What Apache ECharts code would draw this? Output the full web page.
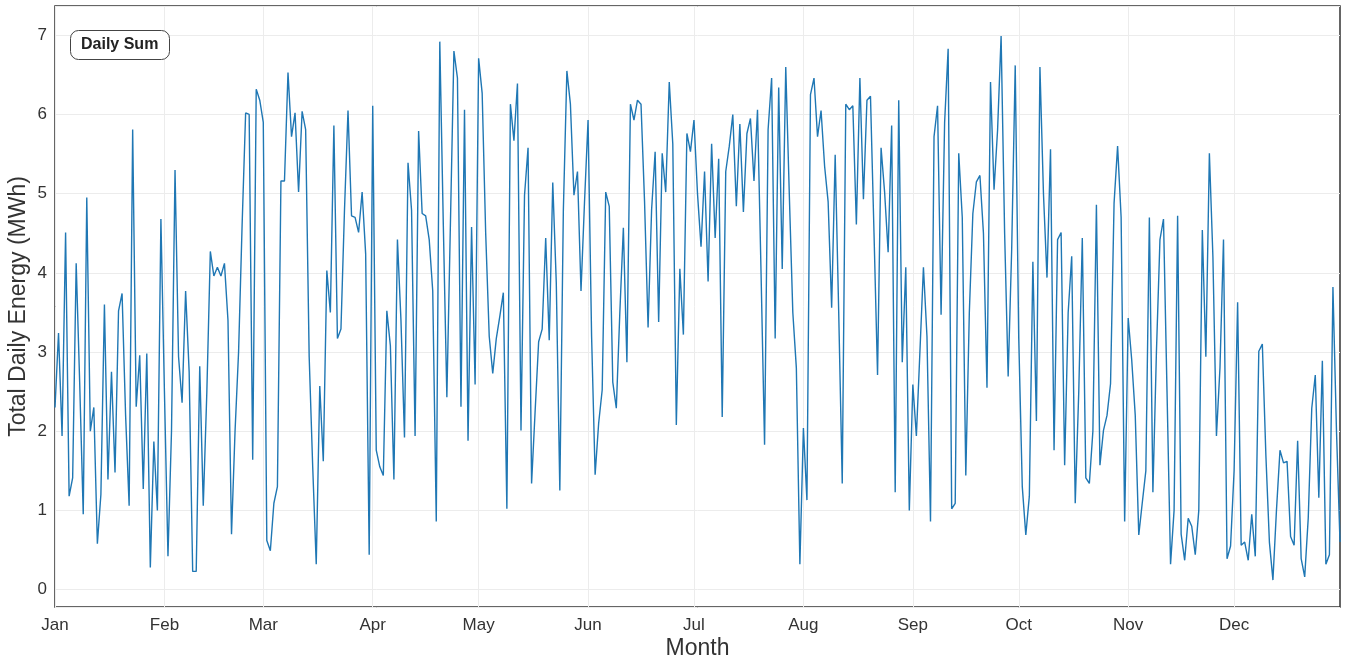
<!DOCTYPE html>
<html>
<head>
<meta charset="utf-8">
<title>Daily Sum</title>
<script src="https://cdn.jsdelivr.net/npm/echarts@6/dist/echarts.min.js"></script>
<style>
    html, body { margin: 0; padding: 0; background: #ffffff; }
    #chart { width: 1346px; height: 662px; }
</style>
</head>
<body>
<div id="chart"></div>
<script>
var monthNames = ['Jan', 'Feb', 'Mar', 'Apr', 'May', 'Jun', 'Jul', 'Aug', 'Sep', 'Oct', 'Nov', 'Dec'];
var monthDays = [31, 28, 31, 30, 31, 30, 31, 31, 30, 31, 30, 31];

// daily totals (MWh)
var jan = [2.3, 3.24, 1.94, 4.51, 1.18, 1.41, 4.12, 2.6, 0.95, 4.95, 2.0, 2.3, 0.58, 1.2, 3.6, 1.39,
    2.75, 1.48, 3.52, 3.74, 2.2, 1.06, 5.81, 2.31, 2.96, 1.27, 2.98, 0.28, 1.87, 1.0, 4.68];
var feb = [2.5, 0.42, 2.0, 5.3, 2.94, 2.36, 3.77, 2.75, 0.23, 0.23, 2.82, 1.06, 2.48, 4.27, 3.96, 4.07,
    3.96, 4.12, 3.4, 0.7, 2.0, 3.0, 4.6, 6.02, 6.0, 1.64, 6.32, 6.18];
var mar = [5.9, 0.62, 0.49, 1.09, 1.3, 5.16, 5.16, 6.53, 5.72, 6.02, 5.02, 6.04, 5.81, 2.94, 1.55, 0.32,
    2.57, 1.62, 4.03, 3.5, 5.86, 3.17, 3.29, 4.79, 6.05, 4.72, 4.7, 4.51, 5.02, 4.24, 0.44];
var apr = [6.11, 1.76, 1.55, 1.44, 3.52, 3.08, 1.39, 4.42, 3.4, 1.92, 5.39, 4.79, 1.94, 5.79, 4.75, 4.72,
    4.42, 3.77, 0.86, 6.92, 4.6, 2.43, 4.6, 6.8, 6.46, 2.31, 6.06, 1.88, 4.58, 2.59];
var may = [6.71, 6.27, 4.5, 3.2, 2.73, 3.17, 3.45, 3.75, 1.02, 6.13, 5.67, 6.39, 2.01, 4.98, 5.58, 1.34,
    2.25, 3.13, 3.29, 4.44, 3.15, 5.14, 3.87, 1.25, 4.79, 6.55, 6.13, 4.98, 5.28, 3.77, 4.9];
var jun = [5.93, 3.2, 1.45, 2.1, 2.52, 5.02, 4.84, 2.62, 2.29, 3.5, 4.57, 2.87, 6.13, 5.93, 6.18, 6.13,
    4.9, 3.31, 4.8, 5.53, 3.38, 5.51, 5.02, 6.41, 5.63, 2.08, 4.05, 3.22, 5.76, 5.53];
var jul = [5.93, 5.0, 4.33, 5.28, 3.89, 5.63, 4.44, 5.44, 2.18, 5.28, 5.6, 6.0, 4.84, 5.88, 4.77, 5.76,
    5.95, 5.16, 6.06, 4.0, 1.83, 5.81, 6.46, 3.17, 6.34, 4.05, 6.6, 5.0, 3.5, 2.8, 0.32];
var aug = [2.04, 1.13, 6.25, 6.46, 5.72, 6.05, 5.35, 4.9, 3.56, 5.49, 3.5, 1.34, 6.13, 6.06, 6.11, 4.61,
    6.46, 4.93, 6.18, 6.23, 4.5, 2.71, 5.58, 5.02, 4.26, 5.86, 1.23, 6.18, 2.87, 4.07, 1.0];
var sep = [2.59, 1.94, 3.0, 4.07, 3.2, 0.86, 5.72, 6.11, 3.47, 5.9, 6.83, 1.02, 1.09, 5.51, 4.7, 1.44,
    3.5, 4.75, 5.15, 5.23, 4.5, 2.55, 6.41, 5.05, 5.8, 6.99, 4.5, 2.69, 4.3, 6.62];
var oct = [3.17, 1.3, 0.69, 1.18, 4.14, 2.13, 6.6, 5.0, 3.94, 5.56, 1.76, 4.42, 4.51, 1.57, 3.5, 4.21,
    1.09, 2.5, 4.44, 1.41, 1.34, 2.0, 4.86, 1.57, 2.01, 2.2, 2.6, 4.88, 5.6, 4.7, 0.86];
var nov = [3.43, 2.9, 2.2, 0.69, 1.1, 1.5, 4.7, 1.23, 3.0, 4.42, 4.68, 2.5, 0.32, 1.0, 4.72, 0.7,
    0.37, 0.9, 0.8, 0.44, 1.0, 4.54, 2.94, 5.51, 4.2, 1.94, 2.8, 4.42, 0.39, 0.55];
var dec = [1.5, 3.63, 0.56, 0.6, 0.37, 0.95, 0.42, 3.01, 3.1, 1.7, 0.6, 0.12, 1.0, 1.76, 1.6, 1.62,
    0.67, 0.56, 1.88, 0.39, 0.16, 0.9, 2.29, 2.71, 1.16, 2.89, 0.32, 0.44, 3.82, 2.01, 0.6];

var dailySum = [].concat(jan, feb, mar, apr, may, jun, jul, aug, sep, oct, nov, dec);

// one category per day, month name kept for the first day of each month
var days = [];
var firstOfMonth = {};
for (var m = 0; m < 12; m++) {
    for (var d = 1; d <= monthDays[m]; d++) {
        if (d === 1) firstOfMonth[days.length] = monthNames[m];
        days.push(monthNames[m] + ' ' + d);
    }
}

function isMonthStart(index) {
    return firstOfMonth.hasOwnProperty(index);
}

var myChart = echarts.init(document.getElementById('chart'));

var option = {
    backgroundColor: '#ffffff',
    animation: false,
    textStyle: { fontFamily: 'Liberation Sans, Arial, sans-serif' },
    title: {
        text: 'Daily Sum',
        left: 70,
        top: 30,
        padding: [7, 11, 7, 11],
        borderWidth: 1,
        borderColor: '#444',
        borderRadius: 8,
        backgroundColor: '#ffffff',
        textStyle: {
            fontSize: 16,
            fontWeight: 'bold',
            color: '#222'
        }
    },
    grid: {
        left: 55,
        right: 6,
        top: 6,
        bottom: 55,
        outerBoundsMode: 'none',
        show: true,
        borderColor: '#333',
        borderWidth: 1.5
    },
    xAxis: {
        type: 'category',
        data: days,
        boundaryGap: false,
        name: 'Month',
        nameLocation: 'middle',
        nameGap: 30,
        nameMoveOverlap: false,
        nameTextStyle: { fontSize: 23, color: '#333' },
        axisLine: { show: false },
        axisTick: { show: false },
        axisLabel: {
            interval: function (index) { return isMonthStart(index); },
            formatter: function (value, index) { return firstOfMonth[index] || ''; },
            fontSize: 17,
            color: '#333',
            margin: 10
        },
        splitLine: {
            show: true,
            interval: function (index) { return isMonthStart(index); },
            lineStyle: { color: '#ececec', width: 1 }
        }
    },
    yAxis: {
        type: 'value',
        min: -0.22,
        max: 7.37,
        splitNumber: 8,
        name: 'Total Daily Energy (MWh)',
        nameLocation: 'middle',
        nameGap: 25,
        nameMoveOverlap: false,
        nameTextStyle: { fontSize: 23, color: '#333' },
        axisLine: { show: false },
        axisTick: { show: false },
        axisLabel: {
            fontSize: 17,
            color: '#333',
            margin: 8,
            showMinLabel: false,
            showMaxLabel: false
        },
        splitLine: {
            show: true,
            lineStyle: { color: '#ececec', width: 1 }
        }
    },
    series: [{
        name: 'Daily Sum',
        type: 'line',
        data: dailySum,
        showSymbol: false,
        symbol: 'none',
        lineStyle: { color: '#1f77b4', width: 1.4 },
        itemStyle: { color: '#1f77b4' }
    }]
};

myChart.setOption(option);
window.addEventListener('resize', function () {
    myChart.resize();
});
</script>
</body>
</html>
